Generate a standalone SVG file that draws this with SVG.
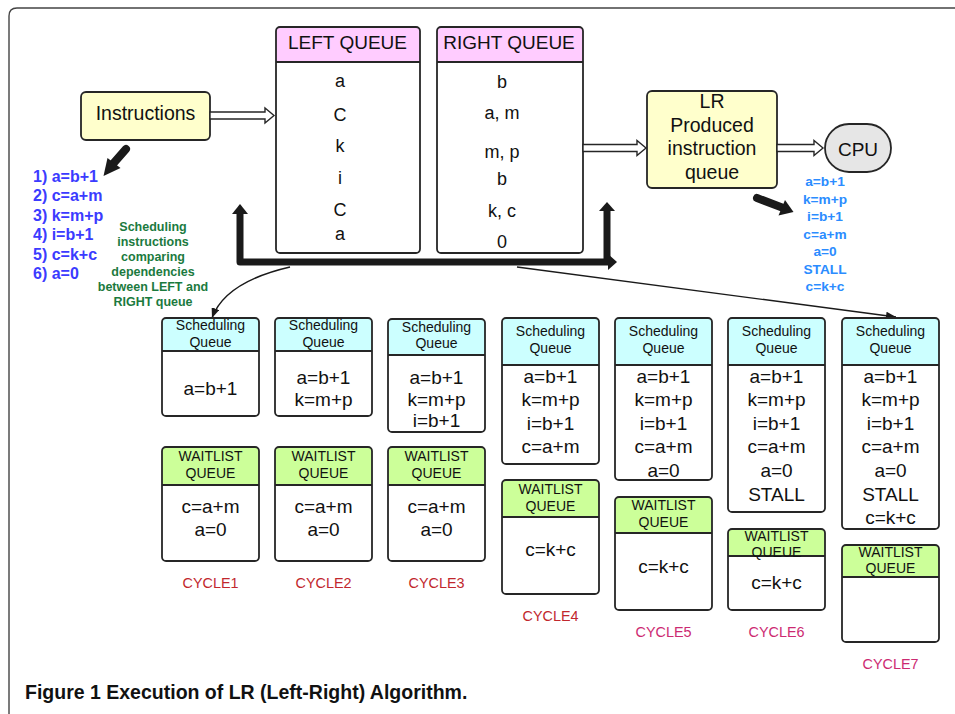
<svg xmlns="http://www.w3.org/2000/svg" width="955" height="714" viewBox="0 0 955 714">
<defs>
<style>
text{font-family:"Liberation Sans",Arial,sans-serif;fill:#111;text-anchor:middle}
.frame{fill:none;stroke:#444;stroke-width:1.4}
.ol{fill:none;stroke:#262626;stroke-width:1.8}
.bg{fill:#fff}
.sep{stroke:#262626;stroke-width:1.8}
.yel{fill:#ffffcc;stroke:#262626;stroke-width:1.8}
.pink{fill:#ffccff}
.cyan{fill:#ccffff}
.grn{fill:#ccff99}
.hollow{fill:#fff;stroke:#262626;stroke-width:1.4;stroke-linejoin:miter}
.thick{stroke:#1a1a1a;stroke-width:8;stroke-linecap:round;fill:none}
.bar{stroke:#1a1a1a;stroke-width:7;fill:none;stroke-linejoin:round}
.head{fill:#1a1a1a}
.thin{stroke:#1a1a1a;stroke-width:1.4;fill:none}
.q{font-size:18px}
.qt{font-size:19px}
.big{font-size:19.5px}
.c{font-size:19px}
.h{font-size:14px}
.cy1{font-size:14.4px;fill:#c1272d}
.cy2{font-size:14.4px;fill:#cc2a72}
.bl{font-size:16px;font-weight:bold;fill:#3b3bff;text-anchor:start}
.br{font-size:13.7px;font-weight:bold;fill:#2b8cff}
.gr{font-size:12.5px;font-weight:bold;fill:#1b7a3e}
.cap{font-size:19.5px;font-weight:bold;text-anchor:start}
</style>
<marker id="ah" markerWidth="10" markerHeight="8" refX="10" refY="4" orient="auto" markerUnits="userSpaceOnUse">
<path d="M0,0 L10,4 L0,8 Z" fill="#1a1a1a"/>
</marker>
</defs>

<path class="frame" d="M9,714 V16 Q9,8 17,8 H955"/>

<g id="instructions">
<rect class="yel" x="81" y="92" width="129" height="48" rx="5"/>
<text class="big" x="145.5" y="120">Instructions</text>
</g>

<g id="left-queue">
<rect class="bg" x="276" y="27" width="144" height="226" rx="4"/>
<rect class="pink" x="276" y="27" width="144" height="35" rx="4"/>
<rect class="pink" x="276" y="40" width="144" height="22"/>
<line class="sep" x1="276" y1="62" x2="420" y2="62"/>
<rect class="ol" x="276" y="27" width="144" height="226" rx="4"/>
<text class="qt" x="347.5" y="48.5">LEFT QUEUE</text>
<text class="q" x="340" y="87">a</text>
<text class="q" x="340" y="121">C</text>
<text class="q" x="340" y="151.5">k</text>
<text class="q" x="340" y="183.5">i</text>
<text class="q" x="340" y="216">C</text>
<text class="q" x="340" y="239.5">a</text>
</g>

<g id="right-queue">
<rect class="bg" x="437" y="27" width="146" height="226" rx="4"/>
<rect class="pink" x="437" y="27" width="146" height="35" rx="4"/>
<rect class="pink" x="437" y="40" width="146" height="22"/>
<line class="sep" x1="437" y1="62" x2="583" y2="62"/>
<rect class="ol" x="437" y="27" width="146" height="226" rx="4"/>
<text class="qt" x="509" y="48.5">RIGHT QUEUE</text>
<text class="q" x="502" y="88">b</text>
<text class="q" x="502" y="119">a, m</text>
<text class="q" x="502" y="158">m, p</text>
<text class="q" x="502" y="185">b</text>
<text class="q" x="502" y="217">k, c</text>
<text class="q" x="502" y="248">0</text>
</g>

<g id="lr-queue">
<rect class="yel" x="647" y="91" width="130" height="97" rx="5"/>
<text class="big" x="712" y="108">LR</text>
<text class="big" x="712" y="131.5">Produced</text>
<text class="big" x="712" y="155">instruction</text>
<text class="big" x="712" y="178.5">queue</text>
</g>

<g id="cpu">
<rect x="825" y="124" width="66" height="48" rx="24" ry="24" fill="#e6e6e6" stroke="#262626" stroke-width="1.8"/>
<text class="c" x="858" y="155.5">CPU</text>
</g>

<g id="instruction-list">
<text class="bl" x="33" y="181.5">1) a=b+1</text>
<text class="bl" x="33" y="201">2) c=a+m</text>
<text class="bl" x="33" y="220.5">3) k=m+p</text>
<text class="bl" x="33" y="240">4) i=b+1</text>
<text class="bl" x="33" y="259.5">5) c=k+c</text>
<text class="bl" x="33" y="279">6) a=0</text>
</g>

<g id="scheduling-note">
<text class="gr" x="153" y="231">Scheduling</text>
<text class="gr" x="153" y="246">instructions</text>
<text class="gr" x="153" y="261">comparing</text>
<text class="gr" x="153" y="276">dependencies</text>
<text class="gr" x="153" y="291">between LEFT and</text>
<text class="gr" x="153" y="306">RIGHT queue</text>
</g>

<g id="cpu-order">
<text class="br" x="825" y="186">a=b+1</text>
<text class="br" x="825" y="203.5">k=m+p</text>
<text class="br" x="825" y="221">i=b+1</text>
<text class="br" x="825" y="238.5">c=a+m</text>
<text class="br" x="825" y="256">a=0</text>
<text class="br" x="825" y="273.5">STALL</text>
<text class="br" x="825" y="291">c=k+c</text>
</g>

<g id="connectors">
<path class="hollow" d="M210,112 H265 V108 L274,115.5 L265,123 V119 H210 Z"/>
<path class="hollow" d="M583,144.5 H637 V140.5 L646,148 L637,155.5 V151.5 H583 Z"/>
<path class="hollow" d="M777,144.5 H814 V140.5 L823,148 L814,155.5 V151.5 H777 Z"/>
<line class="thick" x1="126" y1="149" x2="112" y2="165"/>
<polygon class="head" points="120.5,168 107.5,158 103.5,176"/>
<line class="thick" x1="757" y1="198" x2="782" y2="207.5"/>
<polygon class="head" points="778.5,215.5 785,200 793.5,212"/>
<path class="bar" d="M240,213 V262 H608"/>
<line class="bar" x1="607" y1="262" x2="607" y2="210"/>
<polygon class="head" points="232,214 248,214 240,204"/>
<polygon class="head" points="599,211 615,211 607,202"/>
<polygon class="head" points="608,254 608,270 617,262"/>
<path class="thin" d="M290,267 Q225,282 212,318" marker-end="url(#ah)"/>
<line class="thin" x1="517" y1="267" x2="896" y2="317" marker-end="url(#ah)"/>
</g>

<g id="cycle1">
<rect class="bg" x="162" y="318" width="97" height="98" rx="4"/>
<rect class="cyan" x="162" y="318" width="97" height="33" rx="4"/>
<rect class="cyan" x="162" y="330" width="97" height="21"/>
<line class="sep" x1="162" y1="351" x2="259" y2="351"/>
<rect class="ol" x="162" y="318" width="97" height="98" rx="4"/>
<text class="h" x="210.5" y="330">Scheduling</text>
<text class="h" x="210.5" y="347">Queue</text>
<text class="c" x="210.5" y="395">a=b+1</text>
<rect class="bg" x="162" y="447" width="97" height="114" rx="4"/>
<rect class="grn" x="162" y="447" width="97" height="38" rx="4"/>
<rect class="grn" x="162" y="460" width="97" height="25"/>
<line class="sep" x1="162" y1="485" x2="259" y2="485"/>
<rect class="ol" x="162" y="447" width="97" height="114" rx="4"/>
<text class="h" x="210.5" y="461">WAITLIST</text>
<text class="h" x="210.5" y="478">QUEUE</text>
<text class="c" x="210.5" y="513">c=a+m</text>
<text class="c" x="210.5" y="536">a=0</text>
<text class="cy1" x="210.5" y="588">CYCLE1</text>
</g>

<g id="cycle2">
<rect class="bg" x="275" y="318" width="97" height="98" rx="4"/>
<rect class="cyan" x="275" y="318" width="97" height="33" rx="4"/>
<rect class="cyan" x="275" y="330" width="97" height="21"/>
<line class="sep" x1="275" y1="351" x2="372" y2="351"/>
<rect class="ol" x="275" y="318" width="97" height="98" rx="4"/>
<text class="h" x="323.5" y="330">Scheduling</text>
<text class="h" x="323.5" y="347">Queue</text>
<text class="c" x="323.5" y="383.5">a=b+1</text>
<text class="c" x="323.5" y="406">k=m+p</text>
<rect class="bg" x="275" y="447" width="97" height="114" rx="4"/>
<rect class="grn" x="275" y="447" width="97" height="38" rx="4"/>
<rect class="grn" x="275" y="460" width="97" height="25"/>
<line class="sep" x1="275" y1="485" x2="372" y2="485"/>
<rect class="ol" x="275" y="447" width="97" height="114" rx="4"/>
<text class="h" x="323.5" y="461">WAITLIST</text>
<text class="h" x="323.5" y="478">QUEUE</text>
<text class="c" x="323.5" y="513">c=a+m</text>
<text class="c" x="323.5" y="536">a=0</text>
<text class="cy1" x="323.5" y="588">CYCLE2</text>
</g>

<g id="cycle3">
<rect class="bg" x="388" y="319" width="97" height="113" rx="4"/>
<rect class="cyan" x="388" y="319" width="97" height="36" rx="4"/>
<rect class="cyan" x="388" y="331" width="97" height="24"/>
<line class="sep" x1="388" y1="355" x2="485" y2="355"/>
<rect class="ol" x="388" y="319" width="97" height="113" rx="4"/>
<text class="h" x="436.5" y="332">Scheduling</text>
<text class="h" x="436.5" y="348">Queue</text>
<text class="c" x="436.5" y="383.5">a=b+1</text>
<text class="c" x="436.5" y="406">k=m+p</text>
<text class="c" x="436.5" y="427">i=b+1</text>
<rect class="bg" x="388" y="447" width="97" height="114" rx="4"/>
<rect class="grn" x="388" y="447" width="97" height="38" rx="4"/>
<rect class="grn" x="388" y="460" width="97" height="25"/>
<line class="sep" x1="388" y1="485" x2="485" y2="485"/>
<rect class="ol" x="388" y="447" width="97" height="114" rx="4"/>
<text class="h" x="436.5" y="461">WAITLIST</text>
<text class="h" x="436.5" y="478">QUEUE</text>
<text class="c" x="436.5" y="513">c=a+m</text>
<text class="c" x="436.5" y="536">a=0</text>
<text class="cy1" x="436.5" y="588">CYCLE3</text>
</g>

<g id="cycle4">
<rect class="bg" x="502" y="318" width="97" height="146" rx="4"/>
<rect class="cyan" x="502" y="318" width="97" height="47" rx="4"/>
<rect class="cyan" x="502" y="330" width="97" height="35"/>
<line class="sep" x1="502" y1="365" x2="599" y2="365"/>
<rect class="ol" x="502" y="318" width="97" height="146" rx="4"/>
<text class="h" x="550.5" y="336">Scheduling</text>
<text class="h" x="550.5" y="353">Queue</text>
<text class="c" x="550.5" y="382.5">a=b+1</text>
<text class="c" x="550.5" y="406">k=m+p</text>
<text class="c" x="550.5" y="429.5">i=b+1</text>
<text class="c" x="550.5" y="453">c=a+m</text>
<rect class="bg" x="502" y="480" width="97" height="114" rx="4"/>
<rect class="grn" x="502" y="480" width="97" height="37" rx="4"/>
<rect class="grn" x="502" y="492" width="97" height="25"/>
<line class="sep" x1="502" y1="517" x2="599" y2="517"/>
<rect class="ol" x="502" y="480" width="97" height="114" rx="4"/>
<text class="h" x="550.5" y="494">WAITLIST</text>
<text class="h" x="550.5" y="510.5">QUEUE</text>
<text class="c" x="550.5" y="556">c=k+c</text>
<text class="cy1" x="550.5" y="620.5">CYCLE4</text>
</g>

<g id="cycle5">
<rect class="bg" x="615" y="318" width="97" height="162" rx="4"/>
<rect class="cyan" x="615" y="318" width="97" height="47" rx="4"/>
<rect class="cyan" x="615" y="330" width="97" height="35"/>
<line class="sep" x1="615" y1="365" x2="712" y2="365"/>
<rect class="ol" x="615" y="318" width="97" height="162" rx="4"/>
<text class="h" x="663.5" y="336">Scheduling</text>
<text class="h" x="663.5" y="353">Queue</text>
<text class="c" x="663.5" y="382.5">a=b+1</text>
<text class="c" x="663.5" y="406">k=m+p</text>
<text class="c" x="663.5" y="429.5">i=b+1</text>
<text class="c" x="663.5" y="453">c=a+m</text>
<text class="c" x="663.5" y="476.5">a=0</text>
<rect class="bg" x="615" y="497" width="97" height="113" rx="4"/>
<rect class="grn" x="615" y="497" width="97" height="36" rx="4"/>
<rect class="grn" x="615" y="509" width="97" height="24"/>
<line class="sep" x1="615" y1="533" x2="712" y2="533"/>
<rect class="ol" x="615" y="497" width="97" height="113" rx="4"/>
<text class="h" x="663.5" y="510">WAITLIST</text>
<text class="h" x="663.5" y="527">QUEUE</text>
<text class="c" x="663.5" y="572.5">c=k+c</text>
<text class="cy2" x="663.5" y="637">CYCLE5</text>
</g>

<g id="cycle6">
<rect class="bg" x="728" y="318" width="97" height="194" rx="4"/>
<rect class="cyan" x="728" y="318" width="97" height="47" rx="4"/>
<rect class="cyan" x="728" y="330" width="97" height="35"/>
<line class="sep" x1="728" y1="365" x2="825" y2="365"/>
<rect class="ol" x="728" y="318" width="97" height="194" rx="4"/>
<text class="h" x="776.5" y="336">Scheduling</text>
<text class="h" x="776.5" y="353">Queue</text>
<text class="c" x="776.5" y="382.5">a=b+1</text>
<text class="c" x="776.5" y="406">k=m+p</text>
<text class="c" x="776.5" y="429.5">i=b+1</text>
<text class="c" x="776.5" y="453">c=a+m</text>
<text class="c" x="776.5" y="476.5">a=0</text>
<text class="c" x="776.5" y="500.5">STALL</text>
<rect class="bg" x="728" y="529" width="97" height="81" rx="4"/>
<rect class="grn" x="728" y="529" width="97" height="27" rx="4"/>
<rect class="grn" x="728" y="540" width="97" height="16"/>
<line class="sep" x1="728" y1="556" x2="825" y2="556"/>
<rect class="ol" x="728" y="529" width="97" height="81" rx="4"/>
<text class="h" x="776.5" y="540.5">WAITLIST</text>
<text class="h" x="776.5" y="557">QUEUE</text>
<text class="c" x="776.5" y="589">c=k+c</text>
<text class="cy2" x="776.5" y="637">CYCLE6</text>
</g>

<g id="cycle7">
<rect class="bg" x="842" y="318" width="97" height="211" rx="4"/>
<rect class="cyan" x="842" y="318" width="97" height="47" rx="4"/>
<rect class="cyan" x="842" y="330" width="97" height="35"/>
<line class="sep" x1="842" y1="365" x2="939" y2="365"/>
<rect class="ol" x="842" y="318" width="97" height="211" rx="4"/>
<text class="h" x="890.5" y="336">Scheduling</text>
<text class="h" x="890.5" y="353">Queue</text>
<text class="c" x="890.5" y="382.5">a=b+1</text>
<text class="c" x="890.5" y="406">k=m+p</text>
<text class="c" x="890.5" y="429.5">i=b+1</text>
<text class="c" x="890.5" y="453">c=a+m</text>
<text class="c" x="890.5" y="476.5">a=0</text>
<text class="c" x="890.5" y="500.5">STALL</text>
<text class="c" x="890.5" y="524">c=k+c</text>
<rect class="bg" x="842" y="545" width="97" height="97" rx="4"/>
<rect class="grn" x="842" y="545" width="97" height="32" rx="4"/>
<rect class="grn" x="842" y="557" width="97" height="20"/>
<line class="sep" x1="842" y1="577" x2="939" y2="577"/>
<rect class="ol" x="842" y="545" width="97" height="97" rx="4"/>
<text class="h" x="890.5" y="556.5">WAITLIST</text>
<text class="h" x="890.5" y="573">QUEUE</text>
<text class="cy2" x="890.5" y="669">CYCLE7</text>
</g>

<text class="cap" x="25" y="699">Figure 1 Execution of LR (Left-Right) Algorithm.</text>
</svg>
